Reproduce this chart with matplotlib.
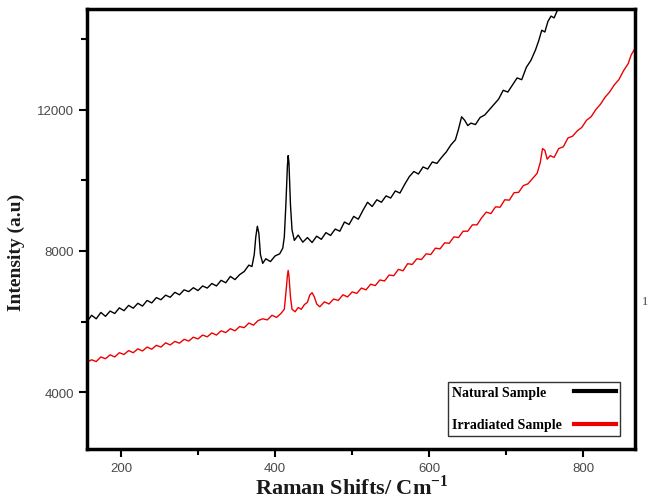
import matplotlib.pyplot as plt
from matplotlib.ticker import MultipleLocator

# Raman spectra
black_shift = [156, 162, 168, 174, 180, 186, 192, 198, 204, 210, 216, 222, 228, 234, 240,
               246, 252, 258, 264, 270, 276, 282, 288, 294, 300, 306, 312, 318, 324, 330,
               336, 342, 348, 354, 360, 366, 370, 373, 375, 377, 379, 381, 384, 388, 394,
               400, 406, 410, 412, 414, 416, 417, 418, 420, 422, 425, 430, 436, 442, 448,
               454, 460, 466, 472, 478, 484, 490, 496, 502, 508, 514, 520, 526, 532, 538,
               544, 550, 556, 562, 568, 574, 580, 586, 592, 598, 604, 610, 616, 622, 628,
               634, 638, 642, 646, 650, 654, 660, 666, 672, 678, 684, 690, 696, 702, 708,
               714, 720, 726, 732, 738, 742, 746, 750, 754, 758, 762, 766, 770, 776]
black_intensity = [6000, 6180, 6080, 6260, 6150, 6300, 6230, 6390, 6310, 6460, 6380, 6520, 6440, 6600, 6530,
                   6680, 6620, 6750, 6690, 6830, 6760, 6900, 6850, 6960, 6880, 7010, 6950, 7080, 7010, 7170,
                   7100, 7280, 7190, 7330, 7420, 7600, 7560, 7900, 8400, 8700, 8500, 7900, 7650, 7780, 7700,
                   7860, 7920, 8080, 8400, 9300, 10400, 10700, 10500, 9300, 8600, 8300, 8450, 8250, 8380, 8240,
                   8420, 8330, 8520, 8440, 8620, 8560, 8820, 8750, 8980, 8900, 9150, 9380, 9260, 9450, 9380,
                   9560, 9500, 9700, 9640, 9880, 10100, 10250, 10180, 10380, 10320, 10520, 10480, 10650, 10800, 11000,
                   11150, 11450, 11800, 11700, 11550, 11620, 11580, 11780, 11850, 12000, 12150, 12300, 12550, 12500, 12700,
                   12900, 12850, 13200, 13400, 13700, 13950, 14250, 14200, 14500, 14650, 14600, 14800, 14900, 15100]

red_shift = [156, 162, 168, 174, 180, 186, 192, 198, 204, 210, 216, 222, 228, 234, 240,
             246, 252, 258, 264, 270, 276, 282, 288, 294, 300, 306, 312, 318, 324, 330,
             336, 342, 348, 354, 360, 366, 372, 378, 384, 390, 396, 402, 408, 412, 414,
             416, 417, 418, 420, 422, 426, 430, 434, 438, 442, 445, 448, 451, 454, 458,
             464, 470, 476, 482, 488, 494, 500, 506, 512, 518, 524, 530, 536, 542, 548,
             554, 560, 566, 572, 578, 584, 590, 596, 602, 608, 614, 620, 626, 632, 638,
             644, 650, 656, 662, 668, 674, 680, 686, 692, 698, 704, 710, 716, 722, 728,
             734, 740, 744, 747, 750, 753, 757, 762, 768, 774, 780, 786, 792, 798, 804,
             810, 816, 822, 828, 834, 840, 846, 852, 858, 862, 866]
red_intensity = [4850, 4920, 4870, 5000, 4950, 5060, 5000, 5120, 5070, 5180, 5120, 5230, 5170, 5280, 5220,
                 5330, 5280, 5400, 5340, 5440, 5390, 5500, 5450, 5560, 5510, 5620, 5570, 5680, 5620, 5740,
                 5690, 5800, 5740, 5860, 5830, 5960, 5900, 6030, 6080, 6050, 6180, 6120, 6240, 6350, 6800,
                 7300, 7450, 7300, 6700, 6350, 6280, 6400, 6350, 6480, 6550, 6750, 6820, 6700, 6500, 6420,
                 6560, 6500, 6640, 6600, 6760, 6700, 6840, 6800, 6950, 6900, 7060, 7020, 7180, 7150, 7320,
                 7300, 7480, 7440, 7640, 7620, 7780, 7760, 7920, 7900, 8080, 8060, 8230, 8220, 8400, 8380,
                 8560, 8560, 8740, 8740, 8940, 9100, 9060, 9250, 9240, 9450, 9440, 9650, 9660, 9850, 9900,
                 10050, 10200, 10500, 10900, 10850, 10600, 10700, 10650, 10900, 10950, 11200, 11250, 11400, 11500, 11700,
                 11800, 12000, 12150, 12350, 12500, 12700, 12850, 13100, 13300, 13550, 13700]

x_ticks = [200, 400, 600, 800]
y_ticks = [4000, 8000, 12000]

plt.rcParams['mathtext.fontset'] = 'custom'
plt.rcParams['mathtext.rm'] = 'Liberation Serif:bold'
plt.rcParams['mathtext.bf'] = 'Liberation Serif:bold'

fig = plt.figure(figsize=(6.54, 5.02), dpi=100)
ax = fig.add_axes([0.133, 0.104, 0.838, 0.876])

ax.plot(black_shift, black_intensity, color='black', lw=1.0, label='Natural Sample')
ax.plot(red_shift, red_intensity, color='#ee0000', lw=1.0, label='Irradiated Sample')

ax.set_xlim(156, 867)
ax.set_ylim(2400, 14850)
ax.set_xticks(x_ticks)
ax.set_yticks(y_ticks)
ax.xaxis.set_minor_locator(MultipleLocator(100))
ax.yaxis.set_minor_locator(MultipleLocator(2000))

for s in ax.spines.values():
    s.set_linewidth(2.5)
ax.tick_params(which='major', direction='out', length=6, width=1.5,
               labelsize=9.5, labelcolor='#4a4a4a')
ax.tick_params(which='minor', direction='out', length=4, width=1.5)
for lab in ax.get_xticklabels() + ax.get_yticklabels():
    lab.set_family('Liberation Sans')

ax.set_xlabel('Raman Shifts/ Cm$^{-1}$', family='Liberation Serif', fontweight='bold',
              fontsize=16, color='#1a1a1a')
ax.set_ylabel('Intensity (a.u)', family='Liberation Serif', fontweight='bold',
              fontsize=14, color='#1a1a1a')
ax.xaxis.set_label_coords(0.484, -0.058)
ax.yaxis.set_label_coords(-0.113, 0.448)

leg = ax.legend(loc='lower right', bbox_to_anchor=(0.973, 0.03), borderaxespad=0,
                markerfirst=False, fancybox=False, framealpha=1, edgecolor='#333333',
                prop={'family': 'Liberation Serif', 'weight': 'bold', 'size': 10},
                handlelength=3.0, labelspacing=1.4, borderpad=0.3)
leg.get_frame().set_linewidth(1.0)
for h in leg.get_lines():
    h.set_linewidth(3)
# text flush left, line samples flush right inside each legend row
for col in leg._legend_handle_box.get_children():
    col.align = 'left'
    for row in col.get_children():
        row.mode = 'expand'
        row.width = 164

fig.text(0.982, 0.393, '1', family='Liberation Serif', fontsize=9, color='#444444')

fig.savefig('out.png', dpi=100)
